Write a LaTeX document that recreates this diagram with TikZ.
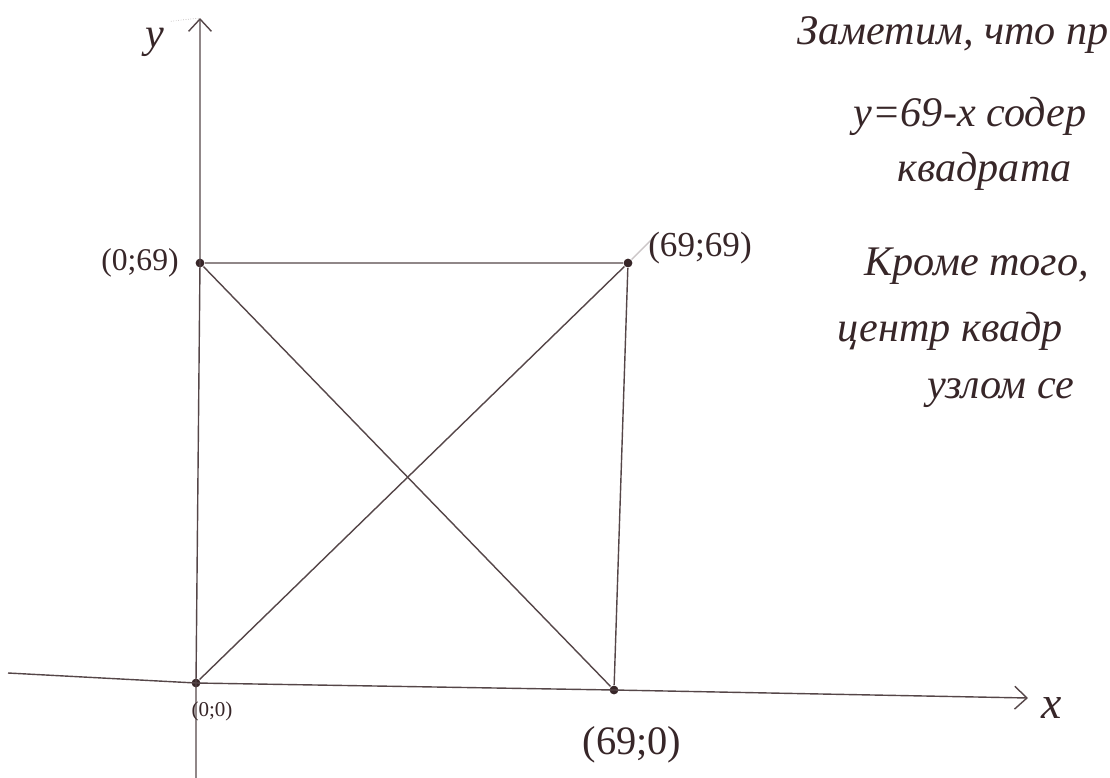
\documentclass[tikz,border=0pt]{standalone}
\usepackage{fontspec}
\setmainfont{Liberation Serif}
\usetikzlibrary{arrows.meta}
\definecolor{ink}{RGB}{55,38,40}
\definecolor{pencil}{RGB}{85,70,72}

\begin{document}
\begin{tikzpicture}[x=0.02cm,y=-0.02cm,line width=0.8pt,>={Straight Barb[length=7pt,width=13pt]},
dot/.style={shape=circle,fill=ink,inner sep=0pt,minimum size=5pt},
lbl/.style={text=ink,font=\fontsize{18}{21}\selectfont},
hand/.style={text=ink,font=\itshape\fontsize{24}{28}\selectfont,anchor=base west,inner xsep=0pt}]
\useasboundingbox (0,0) rectangle (1110,778);
% points of the square
\node[dot] (O) at (196,683) {};
\node[dot] (A) at (200,263) {};
\node[dot] (B) at (628,263) {};
\node[dot] (C) at (614,690) {};
% axes
\coordinate (xl) at (8,673);
\coordinate (xr) at (1028,698);
\coordinate (yb) at (196,778);
\coordinate (yt) at (200,18);
\draw[pencil,->](xl)--(O.center)--(C.center)--(xr);
\draw[pencil,->](yb)--(O.center)--(A.center)--(yt);
\node[text=ink,font=\itshape\fontsize{26}{30}\selectfont] (xlab) at (1052,708) {x};
\node[text=ink,font=\itshape\fontsize{24}{28}\selectfont] (ylab) at (155,42) {y};
\draw[pencil!40,thin,densely dotted](ylab.north east)--(yt);
% square and diagonals
\draw[pencil](A)--(B)--(C);
\draw[pencil](O)--(B);
\draw[pencil](A)--(C);
\coordinate (Bx) at (655,236);
\draw[pencil!30](B)--(Bx);
% labels
\node[lbl] (lA) at (140,263) {(0;69)};
\node[lbl,font=\fontsize{20}{24}\selectfont] (lB) at (700,248) {(69;69)};
\node[lbl,font=\fontsize{12}{14}\selectfont] (lO) at (212,711) {(0;0)};
\node[lbl,font=\fontsize{23}{27}\selectfont] (lC) at (632,745) {(69;0)};
% text on the right
\node[hand] (t1) at (797,44) {Заметим, что пр};
\node[hand] (t2) at (853,126) {y=69-x содер};
\node[hand] (t3) at (897,181) {квадрата};
\node[hand] (t4) at (864,275) {Кроме того,};
\node[hand] (t5) at (837,341) {центр квадр};
\node[hand] (t6) at (927,398) {узлом се};
\end{tikzpicture}
\end{document}
